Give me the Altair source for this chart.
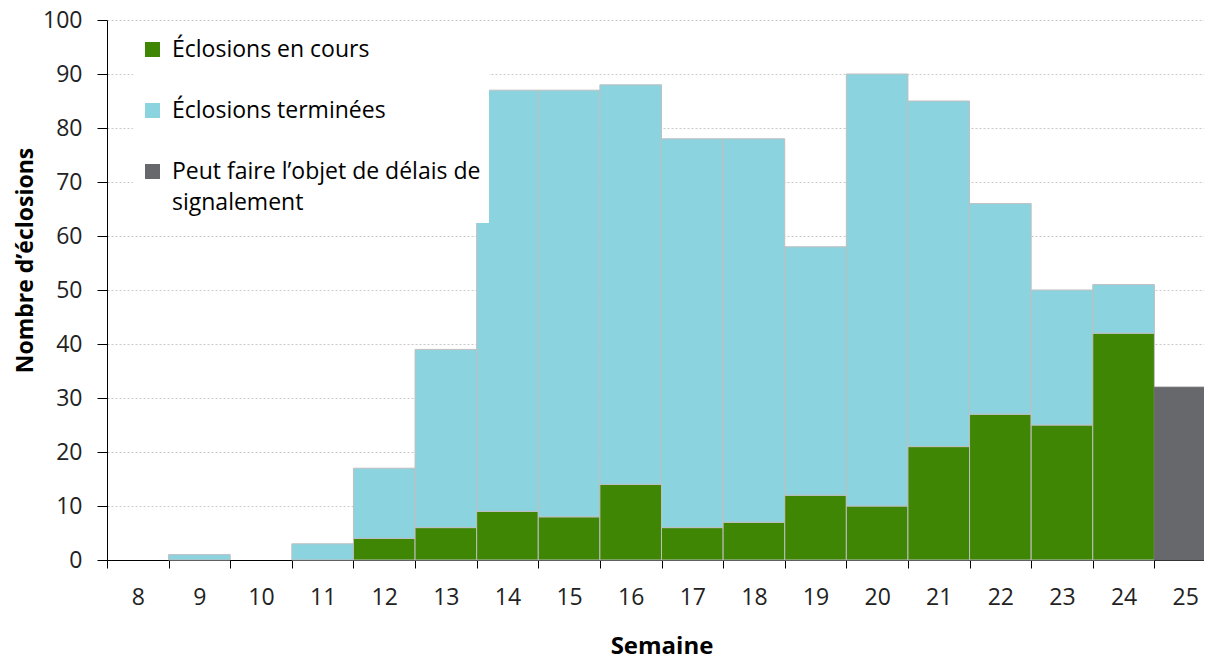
import altair as alt
import pandas as pd

weeks = [8, 9, 10, 11, 12, 13, 14, 15, 16, 17, 18, 19, 20, 21, 22, 23, 24, 25]
en_cours = [0, 0, 0, 0, 4, 6, 9, 8, 14, 6, 7, 12, 10, 21, 27, 25, 42, 0]
terminees = [0, 1, 0, 3, 13, 33, 78, 79, 74, 72, 71, 46, 80, 64, 39, 25, 9, 0]
delais = [0, 0, 0, 0, 0, 0, 0, 0, 0, 0, 0, 0, 0, 0, 0, 0, 0, 32]

cat_names = ["Éclosions en cours", "Éclosions terminées",
             "Peut faire l’objet de délais de signalement"]
cat_colors = ["#3e8604", "#8bd3df", "#67686c"]
y_ticks = [0, 10, 20, 30, 40, 50, 60, 70, 80, 90, 100]

rows = []
for i, w in enumerate(weeks):
    for k, series in enumerate([en_cours, terminees, delais]):
        rows.append({"Semaine": str(w), "cat": cat_names[k], "ord": k, "val": series[i]})
df = pd.DataFrame(rows)

FONT = "Open Sans"

label_expr = ("datum.label == '" + cat_names[2] + "' ? "
              "['Peut faire l’objet de délais de', 'signalement'] : datum.label")

chart = alt.Chart(df).transform_filter(
    alt.datum.val > 0
).mark_bar(strokeWidth=1).encode(
    x=alt.X("Semaine:N", sort=[str(w) for w in weeks],
            scale=alt.Scale(domain=[str(w) for w in weeks], paddingInner=0, paddingOuter=0),
            axis=alt.Axis(title="Semaine", labelAngle=0, tickBand="extent",
                          tickSize=8, tickColor="#000", domainColor="#000",
                          labelFontSize=23, labelPadding=18, labelColor="#222",
                          titleFontSize=24, titleFontWeight="bold", titleColor="#000",
                          titleY=86, titleBaseline="middle",
                          labelFont=FONT, titleFont=FONT, grid=False)),
    y=alt.Y("val:Q", stack="zero",
            scale=alt.Scale(domain=[0, 100], nice=False),
            axis=alt.Axis(title="Nombre d’éclosions", values=y_ticks,
                          tickSize=10, tickColor="#000", domainColor="#000",
                          labelFontSize=23, labelPadding=15, labelColor="#222",
                          titleFontSize=23, titleFontWeight="bold", titleColor="#000",
                          titleX=-82, titleY=240, titleAngle=-90, titleBaseline="middle",
                          labelFont=FONT, titleFont=FONT,
                          grid=True, gridColor="#c8c8c8", gridDash=[2, 2], gridWidth=1)),
    color=alt.Color("cat:N",
                    scale=alt.Scale(domain=cat_names, range=cat_colors),
                    legend=alt.Legend(title=None, orient="none", legendX=26, legendY=10,
                                      fillColor="white", padding=8,
                                      symbolType="square", symbolSize=225,
                                      symbolStrokeWidth=0, symbolOffset=0,
                                      labelFont=FONT, labelFontSize=23, labelColor="#000",
                                      labelLimit=600, labelOffset=8,
                                      rowPadding=37, labelExpr=label_expr)),
    stroke=alt.condition(alt.datum.ord == 2, alt.value("#67686c"), alt.value("#bfbfbf")),
    order=alt.Order("ord:Q"),
).properties(
    width=1109, height=540,
    padding={"left": 99, "top": 12, "right": -12, "bottom": 101},
    autosize="none",
).configure(
    style={"guide-label": {"lineHeight": 31}}
).configure_view(strokeWidth=0)

chart.save("out.html", embed_options={"renderer": "svg", "actions": False})
